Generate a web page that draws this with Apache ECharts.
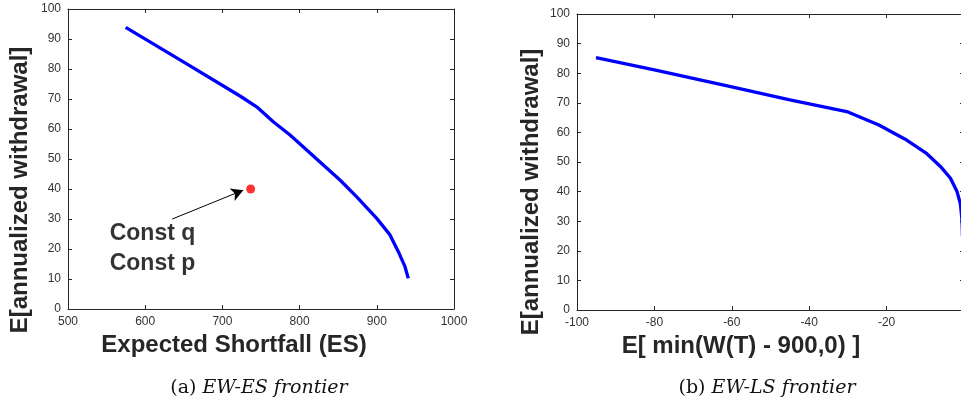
<!DOCTYPE html>
<html>
<head>
<meta charset="utf-8">
<script src="https://cdn.jsdelivr.net/npm/echarts@6/dist/echarts.min.js"></script>
<style>html,body{margin:0;padding:0;background:#fff}#c{width:961px;height:400px}</style>
</head>
<body>
<div id="c"></div>
<script>
// Panel (a): EW-ES frontier
var esX = [574.7, 650, 722.8, 744.4, 765.9, 787.6, 809.2, 830.7, 852.3, 874, 899.9, 917.1, 927.9, 936.5, 940.8];
var esY = [93.9, 82.3, 71, 67.4, 62.4, 58, 53, 48, 43, 37.4, 30.2, 24.7, 19.1, 14.1, 10.2];
var constPoint = [736.6, 40];
var arrowFrom = [635, 30];
var arrowTo = [727, 39.6];
var annoText = ['Const q', 'Const p'];
var annoAt = [554, 30];

// Panel (b): EW-LS frontier
var lsX = [-95.1, -80, -60, -45, -30, -22, -15.2, -9.6, -6.1, -3.5, -1.8, -0.95, -0.6, -0.45, -0.4];
var lsY = [85.3, 81.1, 75.4, 71.0, 66.9, 62.5, 57.7, 52.8, 48.5, 44.5, 40, 36, 31.6, 28, 25];

var ticksA = {xmin: 500, xmax: 1000, xstep: 100, ymin: 0, ymax: 100, ystep: 10};
var ticksB = {xmin: -100, xmax: 0, xstep: 20, ymin: 0, ymax: 100, ystep: 10};

var titles = {
  ax: 'Expected Shortfall (ES)',
  ay: 'E[annualized withdrawal]',
  bx: 'E[ min(W(T) - 900,0) ]',
  by: 'E[annualized withdrawal]',
  capA: ['(a) ', 'EW-ES frontier'],
  capB: ['(b) ', 'EW-LS frontier']
};

function zip(a, b) { return a.map(function (v, i) { return [v, b[i]]; }); }

var FONT = '"Liberation Sans", Arial, Helvetica, sans-serif';
var SERIF = '"DejaVu Serif", "Liberation Serif", serif';
var AX = '#262626';
function plain(v) { return String(v); }

function mainX(gi, t, name, pad) {
  return {
    type: 'value', gridIndex: gi, min: t.xmin, max: t.xmax, interval: t.xstep, position: 'bottom',
    axisLine: {show: true, onZero: false, lineStyle: {color: AX, width: 1}},
    axisTick: {show: true, inside: true, length: 4, lineStyle: {color: AX}},
    axisLabel: {show: true, color: '#333', fontSize: 12, fontFamily: FONT, margin: 7, formatter: plain},
    splitLine: {show: false},
    name: name, nameLocation: 'middle', nameGap: 19,
    nameTextStyle: {fontFamily: FONT, fontSize: 24, fontWeight: 'bold', color: AX, padding: [0, pad, 0, 0]}
  };
}
function topX(gi, t) {
  return {
    type: 'value', gridIndex: gi, min: t.xmin, max: t.xmax, interval: t.xstep, position: 'top',
    axisLine: {show: true, onZero: false, lineStyle: {color: AX, width: 1}},
    axisTick: {show: true, inside: true, length: 4, lineStyle: {color: AX}},
    axisLabel: {show: false}, splitLine: {show: false}
  };
}
function mainY(gi, t, name, pad, gap) {
  return {
    type: 'value', gridIndex: gi, min: t.ymin, max: t.ymax, interval: t.ystep, position: 'left',
    axisLine: {show: true, onZero: false, lineStyle: {color: AX, width: 1}},
    axisTick: {show: true, inside: true, length: 4, lineStyle: {color: AX}},
    axisLabel: {show: true, color: '#333', fontSize: 12, fontFamily: FONT, margin: 7, formatter: plain},
    splitLine: {show: false},
    name: name, nameLocation: 'middle', nameGap: gap, nameRotate: 90,
    nameTextStyle: {fontFamily: FONT, fontSize: 24, fontWeight: 'bold', color: AX, padding: [0, pad, 0, 0]}
  };
}
function rightY(gi, t) {
  return {
    type: 'value', gridIndex: gi, min: t.ymin, max: t.ymax, interval: t.ystep, position: 'right',
    axisLine: {show: true, onZero: false, lineStyle: {color: AX, width: 1}},
    axisTick: {show: true, inside: true, length: 4, lineStyle: {color: AX}},
    axisLabel: {show: false}, splitLine: {show: false}
  };
}
function caption(parts, cx) {
  return {
    text: '{n|' + parts[0] + '}{i|' + parts[1] + '}',
    left: cx, top: 374, textAlign: 'center',
    textStyle: {fontWeight: 'normal', rich: {
      n: {fontFamily: SERIF, fontSize: 19, fontWeight: 'normal', color: '#111'},
      i: {fontFamily: SERIF, fontSize: 19, fontStyle: 'italic', fontWeight: 'normal', color: '#111'}
    }}
  };
}

var chart = echarts.init(document.getElementById('c'), null, {renderer: 'canvas'});
chart.setOption({
  animation: false,
  backgroundColor: '#fff',
  title: [caption(titles.capA, 254), caption(titles.capB, 762)],
  grid: [
    {left: 68, top: 9, width: 386, height: 300, outerBoundsMode: 'none', containLabel: false},
    {left: 577, top: 14, width: 387, height: 296, outerBoundsMode: 'none', containLabel: false}
  ],
  xAxis: [mainX(0, ticksA, titles.ax, 54), topX(0, ticksA), mainX(1, ticksB, titles.bx, 59), topX(1, ticksB)],
  yAxis: [mainY(0, ticksA, titles.ay, 62, 36), rightY(0, ticksA), mainY(1, ticksB, titles.by, 60, 34), rightY(1, ticksB)],
  series: [
    {
      type: 'line', xAxisIndex: 0, yAxisIndex: 0, data: zip(esX, esY),
      showSymbol: false, symbol: 'none', lineStyle: {color: '#0000ff', width: 3.3}, smooth: false
    },
    {
      type: 'line', xAxisIndex: 0, yAxisIndex: 0, data: [], symbol: 'none',
      markLine: {
        silent: true, symbol: ['none', 'arrow'], symbolSize: [10, 12],
        lineStyle: {color: '#000', width: 1, type: 'solid'}, label: {show: false},
        data: [[{coord: arrowFrom}, {coord: arrowTo}]]
      }
    },
    {
      type: 'scatter', xAxisIndex: 0, yAxisIndex: 0, data: [constPoint],
      symbol: 'circle', symbolSize: 9, itemStyle: {color: '#ff0000'}
    },
    {
      type: 'scatter', xAxisIndex: 0, yAxisIndex: 0, data: [annoAt], symbolSize: 0,
      label: {
        show: true, position: 'inside', formatter: annoText.join('\n'),
        align: 'left', verticalAlign: 'top',
        fontFamily: FONT, fontSize: 23, fontWeight: 'bold', color: '#000', lineHeight: 30
      }
    },
    {
      type: 'line', xAxisIndex: 2, yAxisIndex: 2, data: zip(lsX, lsY),
      showSymbol: false, symbol: 'none', lineStyle: {color: '#0000ff', width: 3.3}, smooth: false
    }
  ]
});
</script>
</body>
</html>
